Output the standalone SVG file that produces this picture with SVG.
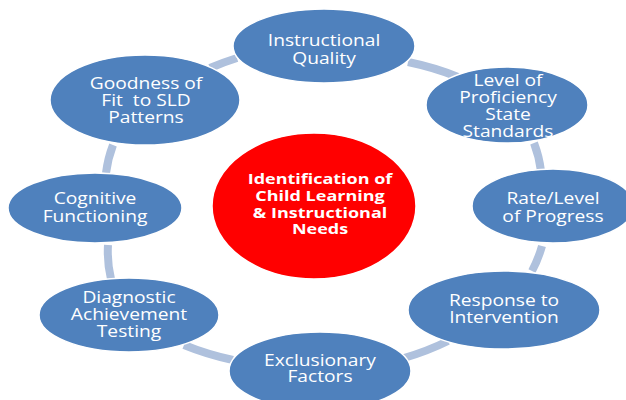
<svg xmlns="http://www.w3.org/2000/svg" width="626" height="400" viewBox="0 0 626 400">
<style>
.bg{fill:#ffffff}
.node{fill:#4F81BD;stroke:#ffffff;stroke-width:1.5}
.hub{fill:#FF0000;stroke:#ffffff;stroke-width:1.5}
.lbl{font-family:"Open Sans","DejaVu Sans",sans-serif;font-size:15.5px;fill:#ffffff;text-anchor:middle}
.hl{font-family:"Open Sans","DejaVu Sans",sans-serif;font-size:14.5px;font-weight:bold;fill:#ffffff;text-anchor:middle}
.con{fill:none;stroke:#AFC1DD;stroke-width:8}
</style>
<rect class="bg" x="0" y="0" width="626" height="400"/>
<g id="connectors">
<path class="con" d="M210,68 A230,162 0 0 1 237,58"/>
<path class="con" d="M408,62 A230,162 0 0 1 458,77"/>
<path class="con" d="M534,143 A230,162 0 0 1 541,171"/>
<path class="con" d="M542,246 A230,162 0 0 1 532,271"/>
<path class="con" d="M448,341 A230,162 0 0 1 404,358"/>
<path class="con" d="M233,360 A230,162 0 0 1 184,345"/>
<path class="con" d="M111,279 A230,162 0 0 1 108,245"/>
<path class="con" d="M106,173 A230,162 0 0 1 113,145"/>
</g>
<g id="hub">
<ellipse class="hub" cx="314" cy="206" rx="102" ry="73"/>
<g transform="translate(320 0) scale(1.24 1)">
<text class="hl" x="0" y="184">Identification of</text>
<text class="hl" x="0" y="201">Child Learning</text>
<text class="hl" x="0" y="218">&amp; Instructional</text>
<text class="hl" x="0" y="234">Needs</text>
</g>
</g>
<g id="instructional-quality">
<ellipse class="node" cx="324" cy="46" rx="91" ry="37"/>
<g transform="translate(324 0) scale(1.24 1)">
<text class="lbl" x="0" y="46">Instructional</text>
<text class="lbl" x="0" y="64">Quality</text>
</g>
</g>
<g id="level-of-proficiency">
<ellipse class="node" cx="507" cy="105" rx="81" ry="38"/>
<g transform="translate(508 0) scale(1.24 1)">
<text class="lbl" x="0" y="86">Level of</text>
<text class="lbl" x="0" y="103">Proficiency</text>
<text class="lbl" x="0" y="120">State</text>
<text class="lbl" x="0" y="137">Standards</text>
</g>
</g>
<g id="rate-level-of-progress">
<ellipse class="node" cx="553" cy="206" rx="81" ry="37"/>
<g transform="translate(553 0) scale(1.24 1)">
<text class="lbl" x="0" y="204">Rate/Level</text>
<text class="lbl" x="0" y="222">of Progress</text>
</g>
</g>
<g id="response-to-intervention">
<ellipse class="node" cx="504" cy="310" rx="96" ry="39"/>
<g transform="translate(504 0) scale(1.24 1)">
<text class="lbl" x="0" y="306">Response to</text>
<text class="lbl" x="0" y="323">Intervention</text>
</g>
</g>
<g id="exclusionary-factors">
<ellipse class="node" cx="320" cy="371" rx="91" ry="39"/>
<g transform="translate(320 0) scale(1.24 1)">
<text class="lbl" x="0" y="366">Exclusionary</text>
<text class="lbl" x="0" y="382">Factors</text>
</g>
</g>
<g id="diagnostic-achievement-testing">
<ellipse class="node" cx="129" cy="315" rx="90" ry="37"/>
<g transform="translate(129 0) scale(1.24 1)">
<text class="lbl" x="0" y="303">Diagnostic</text>
<text class="lbl" x="0" y="320">Achievement</text>
<text class="lbl" x="0" y="337">Testing</text>
</g>
</g>
<g id="cognitive-functioning">
<ellipse class="node" cx="95" cy="208" rx="87" ry="35"/>
<g transform="translate(95 0) scale(1.24 1)">
<text class="lbl" x="0" y="204">Cognitive</text>
<text class="lbl" x="0" y="222">Functioning</text>
</g>
</g>
<g id="goodness-of-fit">
<ellipse class="node" cx="145" cy="100" rx="95" ry="45"/>
<g transform="translate(146 0) scale(1.24 1)">
<text class="lbl" x="0" y="89">Goodness of</text>
<text class="lbl" x="0" y="106" xml:space="preserve">Fit  to SLD</text>
<text class="lbl" x="0" y="123">Patterns</text>
</g>
</g>
</svg>
